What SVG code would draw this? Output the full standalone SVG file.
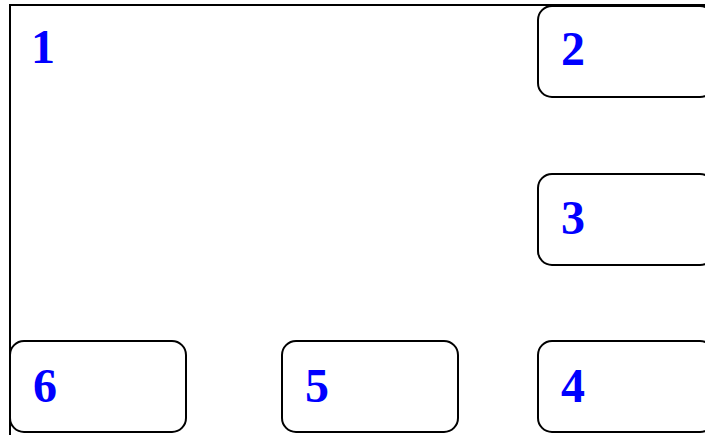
<svg xmlns="http://www.w3.org/2000/svg" width="705" height="435" viewBox="0 0 705 435">
<style>
.box{fill:#fff;stroke:#000;stroke-width:2}
.lbl{font-family:"Liberation Serif","Times New Roman",serif;font-weight:bold;font-size:48px;fill:#0000ff}
</style>
<rect width="705" height="435" fill="#fff"/>
<g id="node1">
<rect x="10" y="5" width="720" height="460" fill="#fff" stroke="#000" stroke-width="2"/>
<text class="lbl" x="31" y="63">1</text>
</g>
<g id="node2">
<rect class="box" x="538" y="6" width="176" height="91" rx="14"/>
<text class="lbl" x="561" y="65">2</text>
</g>
<g id="node3">
<rect class="box" x="538" y="174" width="176" height="91" rx="14"/>
<text class="lbl" x="561" y="234">3</text>
</g>
<g id="node4">
<rect class="box" x="538" y="341" width="176" height="91" rx="14"/>
<text class="lbl" x="561" y="402">4</text>
</g>
<g id="node5">
<rect class="box" x="282" y="341" width="176" height="91" rx="14"/>
<text class="lbl" x="305" y="402">5</text>
</g>
<g id="node6">
<rect class="box" x="10" y="341" width="176" height="91" rx="14"/>
<text class="lbl" x="33" y="402">6</text>
</g>
<g id="connectors"></g>
</svg>
